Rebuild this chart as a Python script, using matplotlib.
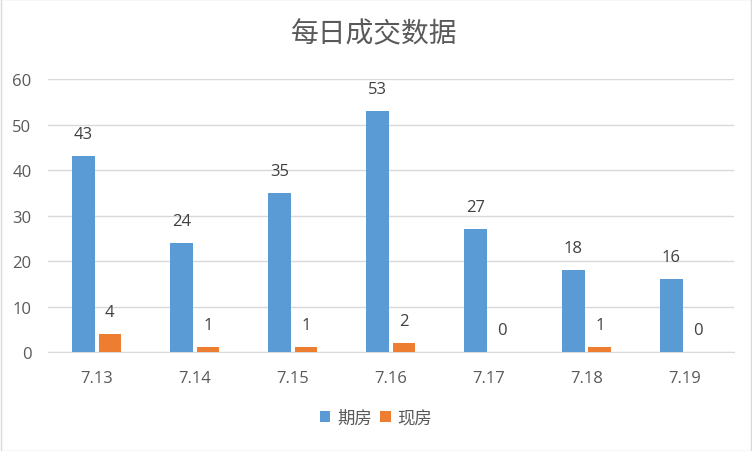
import numpy as np
import matplotlib
matplotlib.use("Agg")
import matplotlib.pyplot as plt

plt.rcParams['font.family'] = ['Open Sans', 'Noto Sans CJK SC', 'DejaVu Sans']

# data
dates = ["7.13", "7.14", "7.15", "7.16", "7.17", "7.18", "7.19"]
futures = [43, 24, 35, 53, 27, 18, 16]   # 期房
existing = [4, 1, 1, 2, 0, 1, 0]         # 现房

BLUE = "#5B9BD5"
ORANGE = "#ED7D31"
TXT = "#595959"
GRID = "#D9D9D9"

fig = plt.figure(figsize=(7.52, 4.52), dpi=100)
ax = fig.add_axes([0.064, 0.219, 0.912, 0.604])

x = np.arange(len(dates))
w = 0.23
b1 = ax.bar(x - 0.14, futures, w, color=BLUE, label="期房", zorder=3)
b2 = ax.bar(x + 0.13, existing, w, color=ORANGE, label="现房", zorder=3)

for bars, vals in ((b1, futures), (b2, existing)):
    for r, v in zip(bars, vals):
        ax.annotate(str(v), (r.get_x() + r.get_width() / 2, v),
                    xytext=(0, 14), textcoords="offset pixels",
                    ha="center", va="bottom", fontsize=12, color="#404040")

ax.set_xlim(-0.5, len(dates) - 0.5)
ax.set_ylim(0, 60)
ax.set_yticks(range(0, 61, 10))
ax.set_xticks(x)
ax.set_xticklabels(dates)
ax.tick_params(axis="both", length=0, labelsize=12, labelcolor=TXT)
ax.tick_params(axis="x", pad=13)
ax.tick_params(axis="y", pad=12)
ax.yaxis.grid(True, color=GRID, lw=1, zorder=0)
for s in ("top", "right", "left"):
    ax.spines[s].set_visible(False)
ax.spines["bottom"].set_color(GRID)

fig.text(0.497, 0.921, "每日成交数据", ha="center", va="center", fontsize=20, color=TXT)

fig.legend(handles=[b1, b2], loc="center", bbox_to_anchor=(0.5, 0.071), ncol=2,
           frameon=False, fontsize=12.5, labelcolor=TXT, handlelength=0.6,
           handleheight=0.6, columnspacing=0.5, handletextpad=0.4)

fig.patches.append(plt.Rectangle((0.001, 0.001), 0.998, 0.998, transform=fig.transFigure,
                                 fill=False, edgecolor="#D9D9D9", lw=1))

fig.savefig("out.png", dpi=100)
